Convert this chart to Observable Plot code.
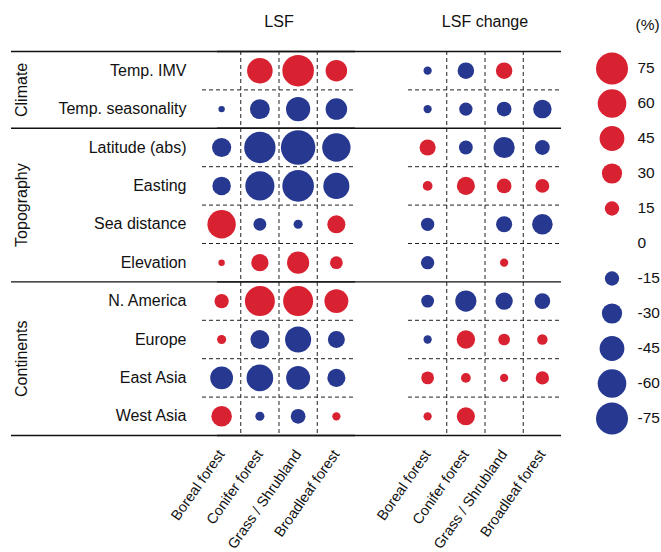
<!DOCTYPE html>
<html>
<head>
<meta charset="utf-8">
<script src="https://cdn.jsdelivr.net/npm/d3@7"></script>
<script src="https://cdn.jsdelivr.net/npm/@observablehq/plot@0.6"></script>
<style>
  body { margin: 0; background: #fff; }
  #wrap { position: relative; width: 661px; height: 552px; overflow: hidden; }
  #legend { position: absolute; left: 562px; top: 0; }
</style>
</head>
<body>
<div id="wrap"><div id="main"></div><div id="legend"></div></div>
<script>
// ---- data ----
const panels = ["LSF", "LSF change"];
const columns = ["Boreal forest", "Conifer forest", "Grass / Shrubland", "Broadleaf forest"];
const rows = ["Temp. IMV", "Temp. seasonality", "Latitude (abs)", "Easting", "Sea distance",
              "Elevation", "N. America", "Europe", "East Asia", "West Asia"];
const groups = ["Climate", "Topography", "Continents"];
const rowGroup = ["Climate", "Climate", "Topography", "Topography", "Topography", "Topography",
                  "Continents", "Continents", "Continents", "Continents"];
// values in %, one array per row (Boreal, Conifer, Grass/Shrub, Broadleaf); null = no circle
const lsf = [
  [null, 48, 73, 34],
  [-3, -29, -43, -34],
  [-27, -72, -87, -59],
  [-25, -62, -73, -50],
  [59, -12, -6, 24],
  [3, 22, 36, 12],
  [15, 66, 66, 42],
  [6, -26, -50, -21],
  [-38, -52, -42, -24],
  [31, -6, -16, 5]
];
const lsfChange = [
  [-5, -20, 20, null],
  [-5, -13, -16, -25],
  [19, -14, -33, -16],
  [7, 24, 16, 14],
  [-13, null, -19, -31],
  [-13, null, 5, null],
  [-12, -33, -22, -18],
  [-5, 25, 10, 8],
  [12, 7, 5, 13],
  [5, 24, null, null]
];
const legendValues = [75, 60, 45, 30, 15, 0, -15, -30, -45, -60, -75];

// ---- derived tables ----
const red = "#d92231", blue = "#263890";
const font = "'Liberation Sans', Arial, Helvetica, sans-serif";
const rowIdx = d3.range(rows.length);
const colIdx = d3.range(columns.length);
const cells = [];
[lsf, lsfChange].forEach((m, p) => m.forEach((r, i) => r.forEach((v, j) => {
  if (v !== null) cells.push({panel: panels[p], row: i, col: j, value: v});
})));
const spans = groups.map(g => {
  const idx = rowIdx.filter(i => rowGroup[i] === g);
  return {panel: panels[0], group: g, start: d3.min(idx) - 0.5, end: d3.max(idx) + 0.5, mid: d3.mean(idx)};
});
const solidY = [spans[0].start, ...spans.map(s => s.end)];
const dashedY = rowIdx.slice(0, -1).filter(i => rowGroup[i] === rowGroup[i + 1]).map(i => i + 0.5);
const dashedX = colIdx.slice(0, -1).map(j => j + 0.5);

const rScale = {domain: [0, 75], range: [0, 16]};
const colorScale = {domain: ["pos", "neg"], range: [red, blue]};

const main = Plot.plot({
  width: 661, height: 552,
  marginTop: 51, marginBottom: 117, marginLeft: 201, marginRight: 99,
  style: {fontFamily: font, fontSize: "16px", color: "#111", background: "white"},
  fx: {domain: panels, paddingInner: 0.256, paddingOuter: 0},
  x: {domain: [-0.5, columns.length - 0.5]},
  y: {domain: [rows.length - 0.5, -0.5]},
  r: rScale,
  color: colorScale,
  marks: [
    Plot.ruleX(dashedX, {stroke: "#222", strokeWidth: 1, strokeDasharray: "4,3"}),
    Plot.ruleY(dashedY, {stroke: "#222", strokeWidth: 1, strokeDasharray: "4,3"}),
    Plot.ruleY(solidY, {stroke: "#111", strokeWidth: 1.4, insetLeft: -191}),
    Plot.dot(cells, {fx: "panel", x: "col", y: "row", r: d => Math.abs(d.value),
                     fill: d => d.value > 0 ? "pos" : "neg", stroke: null}),
    Plot.axisY({ticks: rowIdx, tickFormat: i => rows[i], tickSize: 0, tickPadding: 16,
                label: null, facetAnchor: "left", fontSize: 16}),
    Plot.text(spans, {fx: "panel", y: "mid", text: "group", rotate: -90, frameAnchor: "left",
                      textAnchor: "middle", dx: -181, fontSize: 16, fill: "#111"}),
    Plot.axisX({ticks: colIdx, tickFormat: j => columns[j], tickRotate: -55, tickSize: 0,
                tickPadding: 16, label: null, facetAnchor: "bottom", fontSize: 14.5}),
    Plot.axisFx({anchor: "top", tickSize: 0, tickPadding: 25, label: null, fontSize: 16})
  ]
});
document.getElementById("main").append(main);

const legend = Plot.plot({
  width: 99, height: 552,
  marginTop: 64, marginBottom: 130, marginLeft: 24, marginRight: 24,
  style: {fontFamily: font, fontSize: "16px", color: "#111", background: "transparent"},
  y: {type: "point", domain: legendValues, padding: 0},
  r: rScale,
  color: colorScale,
  marks: [
    Plot.dot(legendValues, {y: d => d, r: d => Math.abs(d), fill: d => d > 0 ? "pos" : "neg", stroke: null}),
    Plot.axisY({anchor: "right", tickSize: 0, tickPadding: 0, tickFormat: d => String(d), label: null, fontSize: 15.5}),
    Plot.text(["(%)"], {frameAnchor: "top-right", textAnchor: "start", dx: -2, dy: -46, fontSize: 15.5, fill: "#111"})
  ]
});
document.getElementById("legend").append(legend);
</script>
</body>
</html>
